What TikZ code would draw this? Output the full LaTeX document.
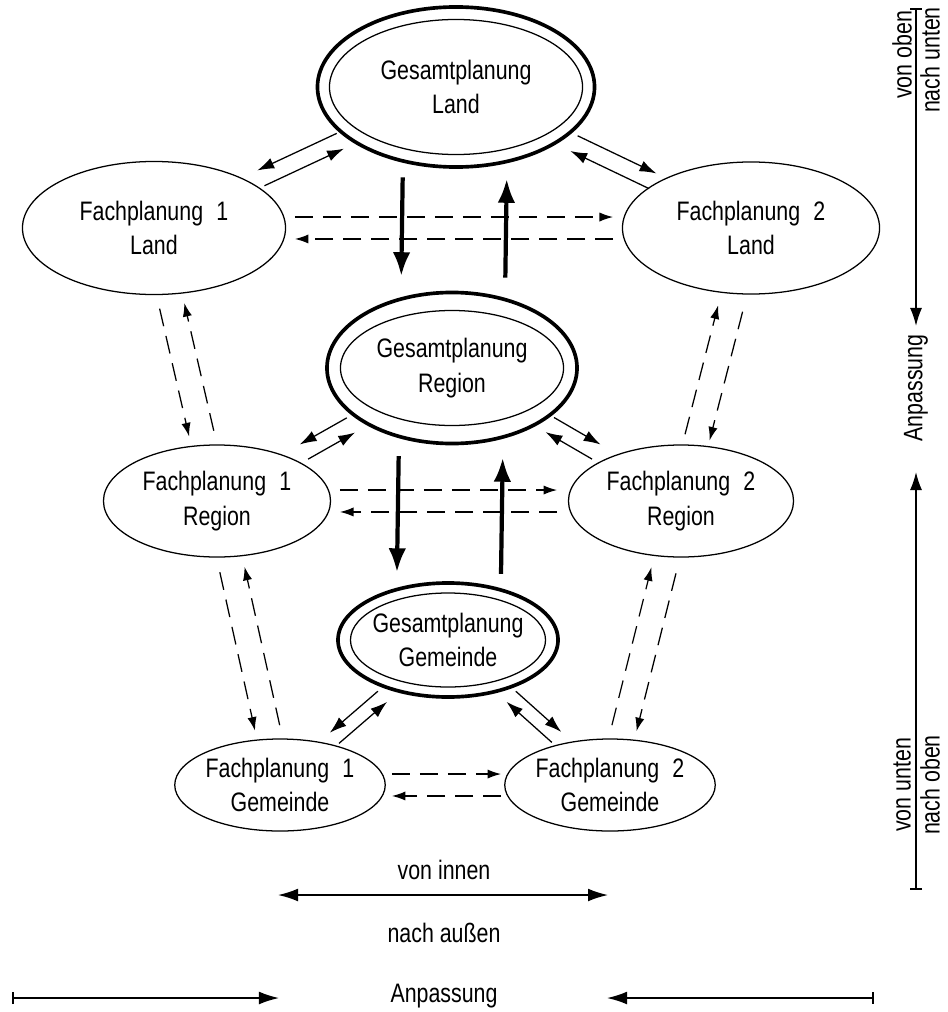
\documentclass[tikz,border=0pt]{standalone}
\usepackage{fontspec}
\setmainfont[FakeStretch=0.8]{Liberation Sans}
\usepackage{tikz}
\usetikzlibrary{arrows.meta, shapes.geometric, calc}

% Pfeilpaar zwischen zwei Ebenen: #1 Stil, #2/#3 Knoten, #4/#5 Anteil, #6 Abstand, #7 Seite
\newcommand{\linkpair}[7]{%
  \draw[#1] ($(#2.center)!#4!(#3.center)!#6!#7:(#3.center)$) -- ($(#2.center)!#5!(#3.center)!#6!#7:(#3.center)$);
  \draw[#1] ($(#2.center)!#5!(#3.center)!#6!-#7:(#3.center)$) -- ($(#2.center)!#4!(#3.center)!#6!-#7:(#3.center)$);}

\begin{document}
\begin{tikzpicture}[x=0.025cm, y=-0.025cm,
    every node/.style={font=\fontsize{19}{24.8}\selectfont, inner sep=0pt},
    fach/.style={ellipse, draw, line width=0.9pt, align=center},
    gesamt/.style={ellipse, draw, line width=2.6pt, align=center},
    gesin/.style={ellipse, draw, line width=0.9pt},
    solidlink/.style={-{Latex[length=4.2mm, width=2.8mm]}, line width=0.9pt},
    dashlink/.style={-{Latex[length=3.4mm, width=2.3mm]}, line width=0.9pt,
                     dash pattern=on 4.5mm off 2.5mm},
    mainlink/.style={-{Latex[length=6mm, width=4.4mm]}, line width=3pt},
    axisline/.style={line width=1.1pt}
]
\useasboundingbox (0,0) rectangle (947,1012);

% --- Ebene Land ---
\node[gesamt, minimum width=6.925cm, minimum height=4cm] (gl) at (456,87) {Gesamtplanung\\Land};
\node[gesin, minimum width=6.325cm, minimum height=3.375cm] (glin) at (gl.center) {};
\node[fach, minimum width=6.575cm, minimum height=3.325cm] (f1l) at (154,228) {Fachplanung\enspace1\\Land};
\node[fach, minimum width=6.425cm, minimum height=3.3cm] (f2l) at (751,228) {Fachplanung\enspace2\\Land};

% --- Ebene Region ---
\node[gesamt, minimum width=6.25cm, minimum height=3.775cm] (gr) at (452,368) {Gesamtplanung\\Region};
\node[gesin, minimum width=5.575cm, minimum height=2.875cm] (grin) at (gr.center) {};
\node[fach, minimum width=5.675cm, minimum height=2.8cm] (f1r) at (217,501) {Fachplanung\enspace1\\Region};
\node[fach, minimum width=5.625cm, minimum height=2.8cm] (f2r) at (681,501) {Fachplanung\enspace2\\Region};

% --- Ebene Gemeinde ---
\node[gesamt, minimum width=5.5cm, minimum height=2.85cm] (gg) at (448,640) {Gesamtplanung\\Gemeinde};
\node[gesin, minimum width=4.875cm, minimum height=2.35cm] (ggin) at (gg.center) {};
\node[fach, minimum width=5.125cm, minimum height=2.3cm] (f1g) at (280,785) {Fachplanung\enspace1\\Gemeinde};
\node[fach, minimum width=4.925cm, minimum height=2.3cm] (f2g) at (610,785) {Fachplanung\enspace2\\Gemeinde};

% --- Gesamtplanung <-> Fachplanung ---
\linkpair{solidlink}{gl}{f1l}{0.383}{0.646}{6pt}{270}
\linkpair{solidlink}{gl}{f2l}{0.40}{0.667}{6pt}{90}
\linkpair{solidlink}{gr}{f1r}{0.43}{0.63}{6pt}{270}
\linkpair{solidlink}{gr}{f2r}{0.427}{0.63}{6pt}{90}
\linkpair{solidlink}{gg}{f1g}{0.39}{0.676}{5pt}{270}
\linkpair{solidlink}{gg}{f2g}{0.39}{0.67}{5pt}{90}

% --- Gesamtplanung oben <-> unten ---
\linkpair{mainlink}{gl}{gr}{0.324}{0.676}{37pt}{270}
\linkpair{mainlink}{gr}{gg}{0.327}{0.754}{37pt}{270}

% --- Fachplanung 1 <-> 2 ---
\linkpair{dashlink}{f1l}{f2l}{0.236}{0.769}{7.8pt}{90}
\linkpair{dashlink}{f1r}{f2r}{0.265}{0.733}{7.8pt}{90}
\linkpair{dashlink}{f1g}{f2g}{0.339}{0.67}{7.8pt}{90}

% --- Fachplanung zwischen den Ebenen ---
\linkpair{dashlink}{f1l}{f1r}{0.285}{0.753}{9pt}{270}
\linkpair{dashlink}{f1r}{f1g}{0.241}{0.799}{9pt}{270}
\linkpair{dashlink}{f2l}{f2r}{0.295}{0.767}{9pt}{90}
\linkpair{dashlink}{f2r}{f2g}{0.244}{0.80}{9pt}{90}

% --- unten: von innen nach aussen ---
\node (inn) at (444,870) {von innen};
\coordinate (ia) at (278,895);
\coordinate (ib) at (608,895);
\draw[{Latex[length=5mm, width=3.2mm]}-{Latex[length=5mm, width=3.2mm]}, axisline] (ia) -- (ib);
\node (aus) at (444,933) {nach außen};

\node (anp) at (444,996) {Anpassung};
\coordinate (la) at (12,998);
\coordinate (lb) at (279,998);
\coordinate (ra) at (874,998);
\coordinate (rb) at (607,998);
\draw[{Bar[width=3mm]}-{Latex[length=5mm, width=3.2mm]}, axisline] (la) -- (lb);
\draw[{Bar[width=3mm]}-{Latex[length=5mm, width=3.2mm]}, axisline] (ra) -- (rb);

% --- rechts: von oben nach unten ---
\coordinate (ot) at (916,8);
\coordinate (ob) at (916,326);
\draw[{Bar[width=3mm]}-{Latex[length=4.5mm, width=3mm]}, axisline] (ot) -- (ob);
\node[rotate=90] (vo) at (902,55) {von oben};
\node[rotate=90] (nu) at (930,60) {nach unten};
\node[rotate=90] (anr) at (916,388) {Anpassung};
\coordinate (ut) at (916,472);
\coordinate (ub) at (916,890);
\draw[{Latex[length=4.5mm, width=3mm]}-{Bar[width=3mm]}, axisline] (ut) -- (ub);
\node[rotate=90] (vu) at (902,785) {von unten};
\node[rotate=90] (no) at (930,785) {nach oben};
\end{tikzpicture}
\end{document}
